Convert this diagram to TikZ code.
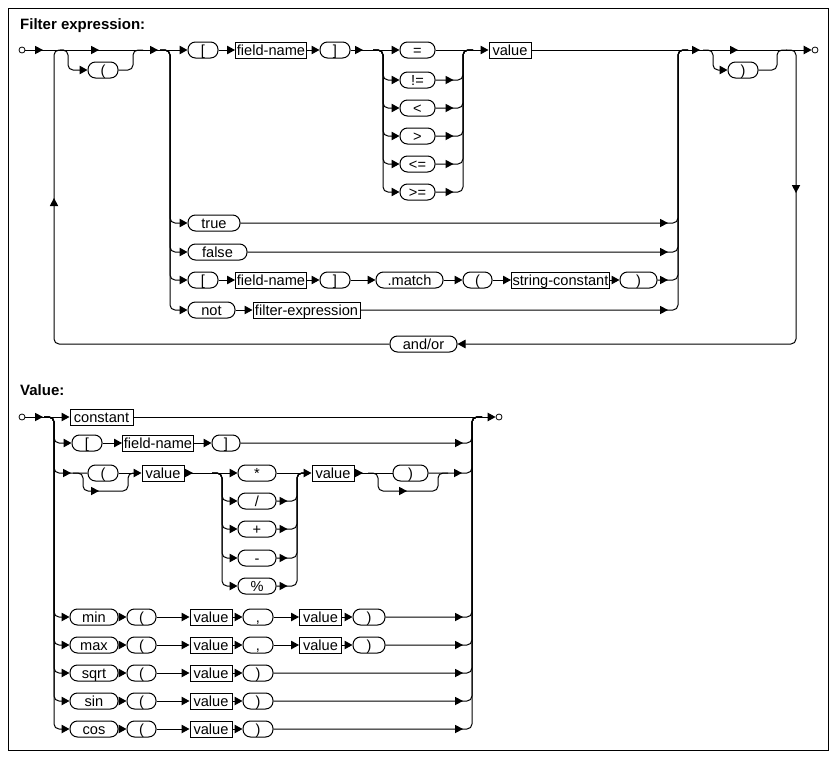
\documentclass[tikz,border=0pt]{standalone}
\usepackage{fontspec}
\setmainfont{Liberation Sans}
\usetikzlibrary{arrows.meta}
\begin{document}
\begin{tikzpicture}[x=1pt,y=-1pt]
\tikzset{
  ln/.style={line width=1pt},
  ar/.style={ln, -{Triangle[length=8pt,width=8.5pt]}},
  rc/.style={rounded corners=5pt},
  box/.style={draw, line width=1pt, minimum height=16pt, inner sep=0pt, text height=10.3pt, text depth=0pt, font=\fontsize{14.6pt}{16pt}\selectfont},
  term/.style={box, rounded corners=7.5pt},
  nterm/.style={box},
  endpt/.style={circle, draw, line width=0.8pt, minimum size=6pt, inner sep=0pt},
  ttl/.style={anchor=base west, inner sep=0pt, font=\bfseries\fontsize{15pt}{17pt}\selectfont},
  arR/.pic={\fill (0pt,0pt) -- (-8pt,4.25pt) -- (-8pt,-4.25pt) -- cycle;},
  arU/.pic={\fill (0pt,0pt) -- (-4.25pt,-8pt) -- (4.25pt,-8pt) -- cycle;},
  arD/.pic={\fill (0pt,0pt) -- (-4.25pt,8pt) -- (4.25pt,8pt) -- cycle;},
}
\path[use as bounding box, fill=white] (0,0) rectangle (839,763);
\draw[ln] (8,8) rectangle (828,750);

%% ---------------- Filter expression ----------------
\node[ttl] (t1) at (20,29.5) {Filter expression:};
\node[endpt] (s1) at (22,50) {};
\node[term, minimum width=30pt] (lpar1) at (103,70) {(};
\node[term, minimum width=30pt] (lb1) at (203,50) {[};
\node[nterm, minimum width=71pt] (fn1) at (271,50) {field-name};
\node[term, minimum width=30pt] (rb1) at (335,50) {]};
\node[term, minimum width=35pt] (eq) at (417.5,50) {=};
\node[term, minimum width=35pt] (ne) at (417.5,80) {!=};
\node[term, minimum width=35pt] (lt) at (417.5,108) {<};
\node[term, minimum width=35pt] (gt) at (417.5,136) {>};
\node[term, minimum width=35pt] (le) at (417.5,164) {<=};
\node[term, minimum width=35pt] (ge) at (417.5,192) {>=};
\node[nterm, minimum width=42pt] (val1) at (510,50) {value};
\node[term, minimum width=30pt] (rpar1) at (743,70) {)};
\node[endpt] (e1) at (815,50) {};
\node[term, minimum width=52pt] (tru) at (214,223) {true};
\node[term, minimum width=59pt] (fls) at (217.5,252) {false};
\node[term, minimum width=30pt] (lb2) at (203,280) {[};
\node[nterm, minimum width=71pt] (fn2) at (271,280) {field-name};
\node[term, minimum width=30pt] (rb2) at (335,280) {]};
\node[term, minimum width=67pt] (mat) at (409.5,280) {.match};
\node[term, minimum width=29pt] (lp2) at (477.5,280) {(};
\node[nterm, minimum width=98pt] (sc) at (560.5,280) {string-constant};
\node[term, minimum width=37pt] (rp2) at (638.5,280) {)};
\node[term, minimum width=47pt] (nt) at (211.5,310) {not};
\node[nterm, minimum width=107pt] (fe) at (306.5,310) {filter-expression};
\node[term, minimum width=67pt] (ao) at (423.5,344) {and/or};

\coordinate (bpA) at (60,50);  \coordinate (bpV) at (68,50);
\coordinate (bpW) at (133,50); \coordinate (bpK) at (143,50);
\coordinate (lpV) at (54,50);  \coordinate (lpK) at (64,50);
\coordinate (alA) at (160,50); \coordinate (alV) at (170,50);
\coordinate (alJ) at (678,50); \coordinate (alK) at (688,50);
\coordinate (opA) at (373,50); \coordinate (opV) at (383,50);
\coordinate (opJ) at (463,50); \coordinate (opK) at (473,50);
\coordinate (bqA) at (703,50); \coordinate (bqV) at (713,50);
\coordinate (bqW) at (777,50); \coordinate (bqK) at (787,50);
\coordinate (rlA) at (786,50); \coordinate (rlV) at (796,50);

\draw[ar] (s1) -- (lb1);
\pic at (43,50) {arR}; \pic at (99,50) {arR}; \pic at (158,50) {arR};
\draw[ar, rc] (bpA) -- (bpV) |- (lpar1.west);
\draw[ln, rc] (lpar1.east) -| (bpW) -- (bpK);
\draw[ln, rc] (ao.west) -| (lpV) -- (lpK);
\pic at (54,198) {arU};
\foreach \n in {tru, fls, lb2, nt} \draw[ar, rc] (alA) -- (alV) |- (\n.west);
\draw[ar] (lb1) -- (fn1);
\draw[ar] (fn1) -- (rb1);
\draw[ar] (rb1) -- (eq);
\pic at (363,50) {arR};
\foreach \n in {ne,lt,gt,le,ge} {
  \draw[ar, rc] (opA) -- (opV) |- (\n.west);
  \draw[ln, rc] (\n.east) -| (opJ) -- (opK);
  \pic at ([xshift=18pt]\n.east) {arR};
}
\draw[ar] (eq) -- (val1);
\draw[ar] (val1) -- (e1);
\pic at (700,50) {arR}; \pic at (738,50) {arR};
\draw[ar, rc] (bqA) -- (bqV) |- (rpar1.west);
\draw[ln, rc] (rpar1.east) -| (bqW) -- (bqK);
\draw[ar, rc] (rlA) -- (rlV) |- (ao.east);
\pic at (796,193) {arD};
\draw[ar] (lb2) -- (fn2);
\draw[ar] (fn2) -- (rb2);
\draw[ar] (rb2) -- (mat);
\draw[ar] (mat) -- (lp2);
\draw[ar] (lp2) -- (sc);
\draw[ar] (sc) -- (rp2);
\draw[ar] (nt) -- (fe);
\foreach \n in {tru, fls, rp2, fe} {
  \draw[ln, rc] (\n.east) -| (alJ) -- (alK);
  \pic at (668,0 |- \n.east) {arR};
}

%% ---------------- Value ----------------
\node[ttl] (t2) at (20,395) {Value:};
\node[endpt] (s2) at (22,417) {};
\node[nterm, minimum width=63pt] (cst) at (101.5,417) {constant};
\node[endpt] (e2) at (499,417) {};
\node[term, minimum width=30pt] (vlb) at (87,443) {[};
\node[nterm, minimum width=71pt] (vfn) at (158,443) {field-name};
\node[term, minimum width=28pt] (vrb) at (226,443) {]};
\node[term, minimum width=30pt] (vlp) at (103,473) {(};
\node[nterm, minimum width=42pt] (vv1) at (163,473) {value};
\node[term, minimum width=38pt] (mul) at (257,473) {*};
\node[term, minimum width=38pt] (dvd) at (257,501) {/};
\node[term, minimum width=38pt] (pls) at (257,529) {+};
\node[term, minimum width=38pt] (mns) at (257,558) {-};
\node[term, minimum width=38pt] (pct) at (257,586) {\%};
\node[nterm, minimum width=42pt] (vv2) at (333,473) {value};
\node[term, minimum width=35pt] (vrp) at (410.5,473) {)};

\coordinate (vsA) at (44,417);  \coordinate (vsV) at (54,417);
\coordinate (vjV) at (472,417); \coordinate (vjK) at (482,417);
\coordinate (vbA) at (73,473);  \coordinate (vbV) at (83,473);
\coordinate (vbL) at (83,491);  \coordinate (vbR) at (128,491);
\coordinate (vbW) at (128,473); \coordinate (vbK) at (138,473);
\coordinate (voA) at (212,473); \coordinate (voV) at (222,473);
\coordinate (voJ) at (297,473); \coordinate (voK) at (307,473);
\coordinate (vcA) at (368,473); \coordinate (vcV) at (378,473);
\coordinate (vcL) at (378,491); \coordinate (vcR) at (438,491);
\coordinate (vcW) at (438,473); \coordinate (vcK) at (448,473);

\draw[ar] (s2) -- (cst);
\pic at (43,417) {arR};
\draw[ar] (cst) -- (e2);
\draw[ar, rc] (vsA) -- (vsV) |- (vlb.west);
\draw[ar] (vlb) -- (vfn);
\draw[ar] (vfn) -- (vrb);
\draw[ln, rc] (vrb.east) -| (vjV) -- (vjK);
\pic at (463,443) {arR};
\draw[ln, rc] (vsA) -- (vsV) |- (vlp.west);
\pic at (71,473) {arR};
\draw[ln, rc] (vbA) -- (vbV) -- (vbL) -- (vbR) -- (vbW) -- (vbK);
\pic at (99,491) {arR};
\draw[ar] (vlp) -- (vv1);
\draw[ar] (vv1) -- (mul);
\pic at (193,473) {arR};
\foreach \n in {dvd,pls,mns,pct} {
  \draw[ar, rc] (voA) -- (voV) |- (\n.west);
  \draw[ln, rc] (\n.east) -| (voJ) -- (voK);
  \pic at ([xshift=11pt]\n.east) {arR};
}
\draw[ar] (mul) -- (vv2);
\draw[ln] (vv2) -- (vrp);
\pic at (363,473) {arR};
\draw[ln, rc] (vcA) -- (vcV) -- (vcL) -- (vcR) -- (vcW) -- (vcK);
\pic at (407,491) {arR};
\draw[ln, rc] (vrp.east) -| (vjV) -- (vjK);
\pic at (462,473) {arR};

\foreach \n/\y in {min/617, max/645} {
  \node[term, minimum width=48pt] (\n) at (94,\y) {\n};
  \node[term, minimum width=29pt] (\n-a) at (141.5,\y) {(};
  \node[nterm, minimum width=42pt] (\n-b) at (211,\y) {value};
  \node[term, minimum width=30pt] (\n-c) at (258,\y) {,};
  \node[nterm, minimum width=42pt] (\n-d) at (320.5,\y) {value};
  \node[term, minimum width=32pt] (\n-e) at (369,\y) {)};
  \draw[ar, rc] (vsA) -- (vsV) |- (\n.west);
  \draw[ar] (\n) -- (\n-a);
  \draw[ar] (\n-a) -- (\n-b);
  \draw[ar] (\n-b) -- (\n-c);
  \draw[ar] (\n-c) -- (\n-d);
  \draw[ar] (\n-d) -- (\n-e);
  \draw[ln, rc] (\n-e.east) -| (vjV) -- (vjK);
  \pic at (463,\y) {arR};
}
\foreach \n/\y in {sqrt/673, sin/701, cos/729} {
  \node[term, minimum width=48pt] (\n) at (94,\y) {\n};
  \node[term, minimum width=29pt] (\n-a) at (141.5,\y) {(};
  \node[nterm, minimum width=42pt] (\n-b) at (211,\y) {value};
  \node[term, minimum width=30pt] (\n-c) at (258,\y) {)};
  \draw[ar, rc] (vsA) -- (vsV) |- (\n.west);
  \draw[ar] (\n) -- (\n-a);
  \draw[ar] (\n-a) -- (\n-b);
  \draw[ar] (\n-b) -- (\n-c);
  \draw[ln, rc] (\n-c.east) -| (vjV) -- (vjK);
  \pic at (463,\y) {arR};
}
\end{tikzpicture}
\end{document}
